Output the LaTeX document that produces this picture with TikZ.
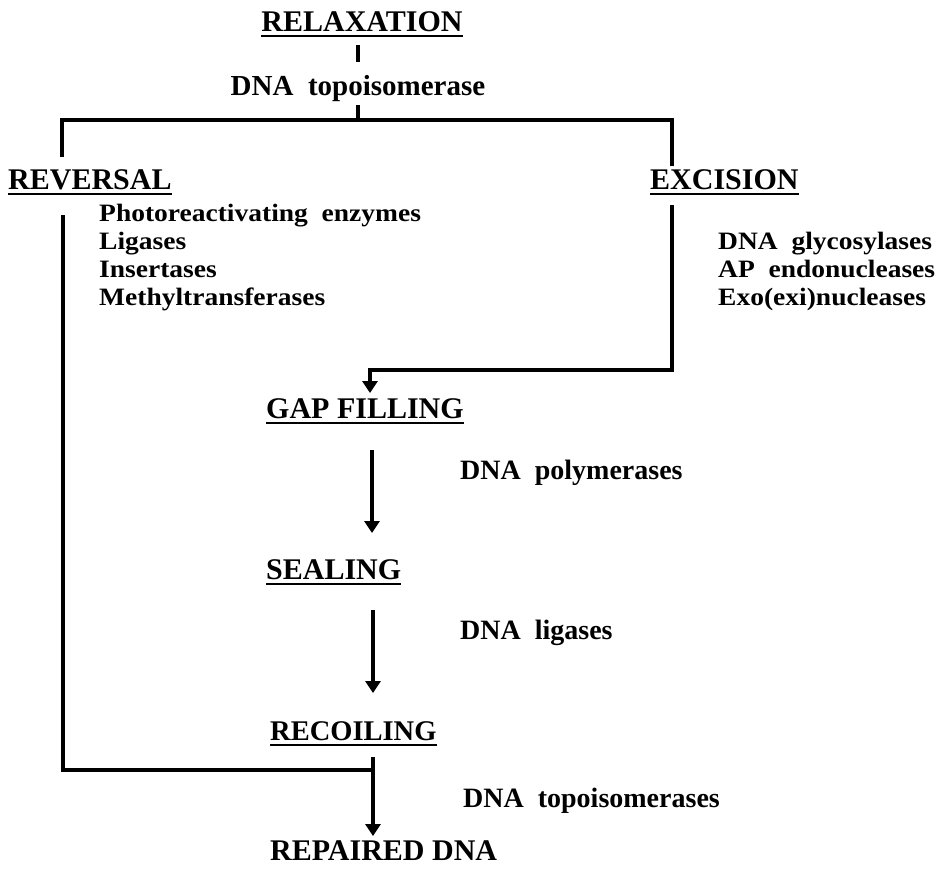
\documentclass[tikz,border=0pt]{standalone}
\usepackage{fontspec}
\setmainfont{Liberation Serif}
\newfontfamily\listfont[FakeStretch=1.1]{Liberation Serif}
\usetikzlibrary{arrows.meta}
\begin{document}
\begin{tikzpicture}[x=1pt,y=-1pt,
  head/.style={font=\fontsize{30}{32}\selectfont\bfseries, inner sep=0pt, anchor=base west},
  lbl/.style={font=\fontsize{28}{30}\selectfont\bfseries, inner sep=0pt, anchor=base west},
  lst/.style={font=\listfont\fontsize{25}{27}\selectfont\bfseries, inner sep=0pt, anchor=base west},
  conn/.style={line width=3.2pt, line cap=butt, line join=miter},
  arr/.style={conn, -{Triangle[width=15pt,length=12pt]}},
  uline/.style={line width=2.6pt}]
\useasboundingbox (0,0) rectangle (949,871);

\node[head, anchor=base] (relax) at (362,31) {RELAXATION};
\node[lbl, font=\fontsize{29}{31}\selectfont\bfseries, anchor=base] (topo) at (358,95) {DNA\ \ topoisomerase};
\node[head] (rev) at (8,189) {REVERSAL};
\node[head] (exc) at (650,189) {EXCISION};
\node[lst] (r1) at (99,221) {Photoreactivating\ \ enzymes};
\node[lst] (r2) at (99,249) {Ligases};
\node[lst] (r3) at (99,277) {Insertases};
\node[lst] (r4) at (99,305) {Methyltransferases};
\node[lst] (e1) at (718,249) {DNA\ \ glycosylases};
\node[lst] (e2) at (718,277) {AP\ \ endonucleases};
\node[lst] (e3) at (718,305) {Exo(exi)nucleases};
\node[head] (gap) at (266,418) {GAP FILLING};
\node[lbl] (pol) at (460,479) {DNA\ \ polymerases};
\node[head] (seal) at (266,579) {SEALING};
\node[lbl] (lig) at (460,639) {DNA\ \ ligases};
\node[head, font=\fontsize{28.5}{30}\selectfont\bfseries] (rec) at (270,740) {RECOILING};
\node[lbl] (tops) at (463,807) {DNA\ \ topoisomerases};
\node[head] (rep) at (270,860) {REPAIRED DNA};

\foreach \n in {relax,rev,exc,gap,seal,rec}
  \draw[uline] ([yshift=-5pt]\n.base west) -- ([yshift=-5pt]\n.base east);

\coordinate (t1) at (358,45);
\coordinate (t2) at (358,62);
\coordinate (t3) at (358,105);
\coordinate (bar) at (358,120);
\coordinate (bl) at (62,120);
\coordinate (br) at (672,120);
\coordinate (bld) at (62,157);
\coordinate (brd) at (672,166);
\coordinate (lv1) at (63,215);
\coordinate (lv2) at (63,770);
\coordinate (join) at (373,770);
\coordinate (rv1) at (672,205);
\coordinate (rv2) at (672,370);
\coordinate (rv3) at (370,370);
\coordinate (gapin) at (370,393);
\coordinate (a1s) at (372,450);
\coordinate (a1e) at (372,533);
\coordinate (a2s) at (373,610);
\coordinate (a2e) at (373,693);
\coordinate (a3s) at (373,757);
\coordinate (a3e) at (373,836);

\draw[conn] (t1) -- (t2);
\draw[conn] (t3) -- (bar);
\draw[conn] (bld) -- (bl) -- (br) -- (brd);
\draw[conn] (lv1) -- (lv2) -- (join);
\draw[arr] (rv1) -- (rv2) -- (rv3) -- (gapin);
\draw[arr] (a1s) -- (a1e);
\draw[arr] (a2s) -- (a2e);
\draw[arr] (a3s) -- (a3e);
\end{tikzpicture}
\end{document}
